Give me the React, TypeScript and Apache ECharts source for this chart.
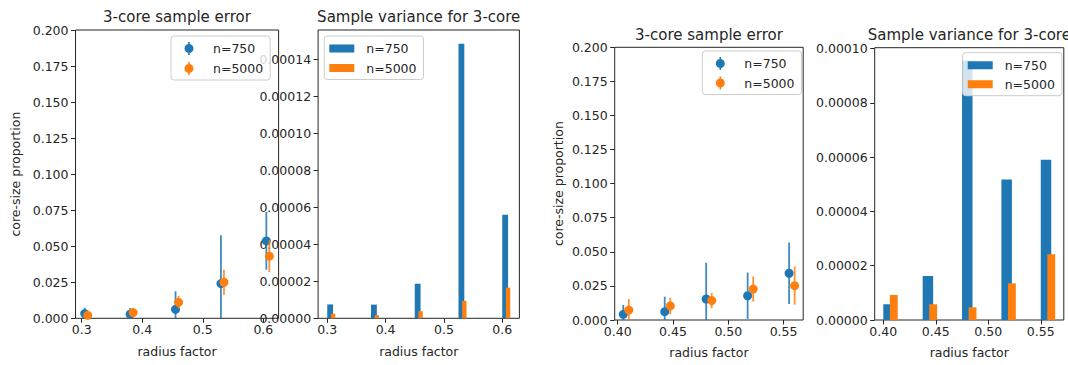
import React, { useEffect, useRef } from 'react';
import * as echarts from 'echarts';

// ---------- data (left figure) ----------
const radiusA = [0.3, 0.375, 0.45, 0.525, 0.6];
const mean750A = [0.0033, 0.0028, 0.0062, 0.0241, 0.0537];
const err750A = [0.0041, 0.0044, 0.0126, 0.0335, 0.02];
const mean5000A = [0.0021, 0.004, 0.0111, 0.025, 0.0431];
const err5000A = [0.002, 0.0025, 0.0044, 0.0087, 0.011];
const var750A = [7.5e-6, 7.4e-6, 1.87e-5, 1.485e-4, 5.6e-5];
const var5000A = [2.5e-6, 1.7e-6, 3.8e-6, 9.4e-6, 1.66e-5];

// ---------- data (right figure) ----------
const radiusB = [0.4, 0.4375, 0.475, 0.5125, 0.55];
const mean750B = [0.0042, 0.0061, 0.0154, 0.0178, 0.0343];
const err750B = [0.0068, 0.011, 0.0266, 0.017, 0.0226];
const mean5000B = [0.0073, 0.0103, 0.0143, 0.0227, 0.0252];
const err5000B = [0.0081, 0.0061, 0.0057, 0.0092, 0.014];
const var750B = [5.8e-6, 1.62e-5, 9.55e-5, 5.17e-5, 5.9e-5];
const var5000B = [9.2e-6, 5.8e-6, 4.66e-6, 1.35e-5, 2.42e-5];

// ---------- tick labels ----------
const xTicksA = [0.3, 0.4, 0.5, 0.6];
const xTicksB = [0.4, 0.45, 0.5, 0.55];
const propTicks = [0, 0.025, 0.05, 0.075, 0.1, 0.125, 0.15, 0.175, 0.2];
const varTicksA = [0, 0.00002, 0.00004, 0.00006, 0.00008, 0.0001, 0.00012, 0.00014];
const varTicksB = [0, 0.00002, 0.00004, 0.00006, 0.00008, 0.0001];

const names = ['n=750', 'n=5000'];
const titles = ['3-core sample error', 'Sample variance for 3-core'];

// ---------- styles ----------
const BLUE = '#1f77b4';
const ORANGE = '#ff7f0e';
const TEXT = '#262626';
const FONT = 'DejaVu Sans';
const FS = 12.5;
const OFF750 = 0.005;
const OFF5000 = 0.01;
const W750 = 0.01;
const W5000 = 0.0075;
// legend handles drawn in a 32px-wide box (invisible end points fix the box)
const errIcon =
  'path://M0 6.5L0 6.5M32 6.5L32 6.5M12.2 0H13.8V13H12.2ZM17.5 6.5A4.5 4.5 0 1 1 8.5 6.5A4.5 4.5 0 1 1 17.5 6.5Z';
const barIcon = 'path://M0 0H25V8H0ZM32 4L32 4';

const pad = (lo: number, hi: number) => {
  const m = (hi - lo) * 0.05;
  return [lo - m, hi + m];
};

const xlimA = pad(radiusA[0] + OFF750, radiusA[4] + OFF5000);
const xlimBarA = pad(radiusA[0] + OFF750 - W750 / 2, radiusA[4] + OFF5000 + W5000 / 2);
const xlimB = pad(radiusB[0] + OFF750, radiusB[4] + OFF5000);
const xlimBarB = pad(radiusB[0] + OFF750 - W750 / 2, radiusB[4] + OFF5000 + W5000 / 2);
const ymaxVarA = Math.max(...var750A, ...var5000A) * 1.05;
const ymaxVarB = Math.max(...var750B, ...var5000B) * 1.05;

const grid = (l: number, t: number, r: number, b: number) => ({
  left: l,
  top: t,
  width: r - l,
  height: b - t,
  show: true,
  borderColor: TEXT,
  borderWidth: 1,
  backgroundColor: 'transparent',
  containLabel: false,
  outerBoundsMode: 'none',
});

const xAxis = (gi: number, lim: number[], ticks: number[], dec: number, nameGap: number) => ({
  type: 'value',
  gridIndex: gi,
  min: lim[0],
  max: lim[1],
  name: 'radius factor',
  nameLocation: 'middle',
  nameGap,
  nameTextStyle: { fontSize: FS, color: TEXT, fontFamily: FONT },
  splitLine: { show: false },
  axisLine: { show: false },
  axisTick: { show: true, length: 4.5, customValues: ticks, lineStyle: { color: TEXT, width: 1 } },
  axisLabel: {
    customValues: ticks,
    margin: 4.5,
    fontSize: FS,
    color: TEXT,
    fontFamily: FONT,
    formatter: (v: number) => v.toFixed(dec),
  },
});

const yAxis = (gi: number, max: number, ticks: number[], dec: number, name: string, nameGap: number) => ({
  type: 'value',
  gridIndex: gi,
  min: 0,
  max,
  name,
  nameLocation: 'middle',
  nameGap,
  nameRotate: 90,
  nameTextStyle: { fontSize: FS, color: TEXT, fontFamily: FONT },
  splitLine: { show: false },
  axisLine: { show: false },
  axisTick: { show: true, length: 4.5, customValues: ticks, lineStyle: { color: TEXT, width: 1 } },
  axisLabel: {
    customValues: ticks,
    margin: 7,
    fontSize: FS,
    color: TEXT,
    fontFamily: FONT,
    formatter: (v: number) => v.toFixed(dec),
  },
});

const errSeries = (gi: number, radius: number[], mean: number[], err: number[], off: number, color: string, z: number) => ({
  type: 'custom',
  name: 'err',
  xAxisIndex: gi,
  yAxisIndex: gi,
  z,
  silent: true,
  clip: true,
  encode: { x: 0, y: 1 },
  data: radius.map((r, i) => [r + off, mean[i], err[i]]),
  renderItem: (params: any, api: any) => {
    const x = api.value(0);
    const y = api.value(1);
    const e = api.value(2);
    const top = api.coord([x, y + e]);
    const bot = api.coord([x, Math.max(0, y - e)]);
    return {
      type: 'line',
      shape: { x1: bot[0], y1: bot[1], x2: top[0], y2: top[1] },
      style: { stroke: color, lineWidth: 1.8, opacity: 0.85 },
    };
  },
});

const pointSeries = (gi: number, name: string, radius: number[], mean: number[], off: number, color: string, z: number) => ({
  type: 'scatter',
  name,
  xAxisIndex: gi,
  yAxisIndex: gi,
  z,
  symbol: 'circle',
  symbolSize: 9,
  itemStyle: { color, opacity: 1 },
  data: radius.map((r, i) => [r + off, mean[i]]),
});

const barSeries = (gi: number, name: string, radius: number[], vals: number[], off: number, w: number, color: string, z: number) => ({
  type: 'custom',
  name,
  xAxisIndex: gi,
  yAxisIndex: gi,
  z,
  itemStyle: { color },
  encode: { x: 0, y: 1 },
  data: radius.map((r, i) => [r, vals[i]]),
  renderItem: (params: any, api: any) => {
    const r = api.value(0);
    const v = api.value(1);
    const p0 = api.coord([r + off - w / 2, 0]);
    const p1 = api.coord([r + off + w / 2, v]);
    return {
      type: 'rect',
      shape: { x: p0[0], y: p1[1], width: p1[0] - p0[0], height: p0[1] - p1[1] },
      style: { fill: color },
    };
  },
});

const legend = (left: number, top: number, icon: string, ih: number, gap: number) => ({
  left,
  top,
  orient: 'vertical',
  itemWidth: 32,
  itemHeight: ih,
  itemGap: gap,
  padding: [6, 7, 5, 5],
  symbolKeepAspect: false,
  backgroundColor: 'rgba(255,255,255,0.8)',
  borderColor: '#cccccc',
  borderWidth: 1,
  borderRadius: 3,
  selectedMode: false,
  z: 10,
  textStyle: { fontSize: FS, color: TEXT, fontFamily: FONT },
  data: names.map((n) => ({ name: n, icon })),
});

const title = (text: string, left: number, top: number) => ({
  text,
  left,
  top,
  textAlign: 'center',
  padding: 0,
  textStyle: { fontSize: 15, fontWeight: 'normal', color: TEXT, fontFamily: FONT },
});

export default function App() {
  const ref = useRef<HTMLDivElement>(null);
  useEffect(() => {
    if (!ref.current) return;
    const chart = echarts.init(ref.current, null, { renderer: 'svg' });
    chart.setOption({
      animation: false,
      backgroundColor: '#ffffff',
      textStyle: { fontFamily: FONT },
      title: [
        title(titles[0], 177, 9.2),
        title(titles[1], 418.7, 9.2),
        title(titles[0], 709, 27.5),
        title(titles[1], 969.3, 27.5),
      ],
      legend: [
        legend(171, 36, errIcon, 13, 7),
        legend(324.3, 36, barIcon, 8, 6.5),
        legend(702.3, 51, errIcon, 13, 6.5),
        legend(962.7, 52.7, barIcon, 8, 6),
      ],
      grid: [
        grid(75.5, 30, 278.6, 318.3),
        grid(318.1, 30, 519.4, 318.3),
        grid(614.7, 47.3, 803.2, 320),
        grid(874.7, 47.7, 1063.8, 320),
      ],
      xAxis: [
        xAxis(0, xlimA, xTicksA, 1, 27),
        xAxis(1, xlimBarA, xTicksA, 1, 27),
        xAxis(2, xlimB, xTicksB, 2, 25.5),
        xAxis(3, xlimBarB, xTicksB, 2, 25.5),
      ],
      yAxis: [
        yAxis(0, 0.2, propTicks, 3, 'core-size proportion', 54),
        yAxis(1, ymaxVarA, varTicksA, 5, '', 0),
        yAxis(2, 0.2, propTicks, 3, 'core-size proportion', 50),
        yAxis(3, ymaxVarB, varTicksB, 5, '', 0),
      ],
      series: [
        errSeries(0, radiusA, mean750A, err750A, OFF750, BLUE, 2),
        pointSeries(0, names[0], radiusA, mean750A, OFF750, BLUE, 3),
        errSeries(0, radiusA, mean5000A, err5000A, OFF5000, ORANGE, 4),
        pointSeries(0, names[1], radiusA, mean5000A, OFF5000, ORANGE, 5),
        barSeries(1, names[0], radiusA, var750A, OFF750, W750, BLUE, 2),
        barSeries(1, names[1], radiusA, var5000A, OFF5000, W5000, ORANGE, 3),
        errSeries(2, radiusB, mean750B, err750B, OFF750, BLUE, 2),
        pointSeries(2, names[0], radiusB, mean750B, OFF750, BLUE, 3),
        errSeries(2, radiusB, mean5000B, err5000B, OFF5000, ORANGE, 4),
        pointSeries(2, names[1], radiusB, mean5000B, OFF5000, ORANGE, 5),
        barSeries(3, names[0], radiusB, var750B, OFF750, W750, BLUE, 2),
        barSeries(3, names[1], radiusB, var5000B, OFF5000, W5000, ORANGE, 3),
      ],
    });
    return () => chart.dispose();
  }, []);
  return (
    <div
      ref={ref}
      style={{ position: 'absolute', left: 0, top: 0, width: 1068, height: 365 }}
    />
  );
}
